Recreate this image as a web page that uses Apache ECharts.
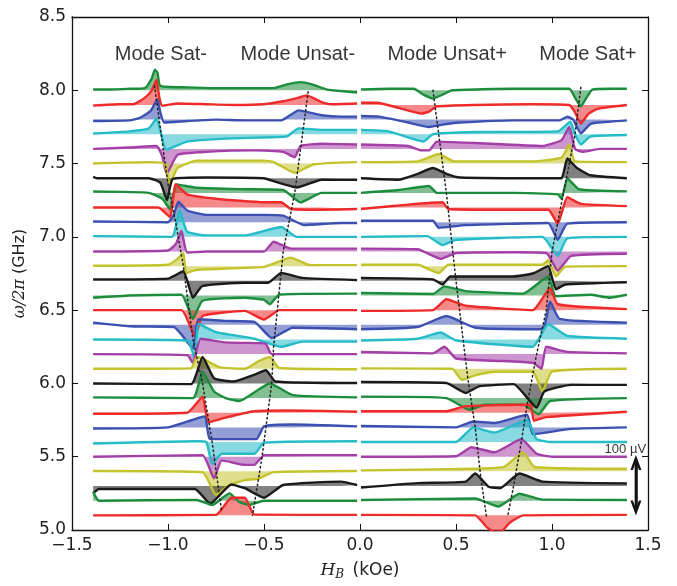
<!DOCTYPE html>
<html><head><meta charset="utf-8">
<script src="https://cdn.jsdelivr.net/npm/echarts@6/dist/echarts.min.js"></script>
<style>html,body{margin:0;padding:0;background:#fff}#c{width:677px;height:586px}</style>
</head><body><div id="c"></div>
<script>
// Trace baselines (GHz), top to bottom
const freqs = [8.0,7.9,7.8,7.7,7.6,7.5,7.4,7.3,7.2,7.1,7.0,6.9,6.8,6.7,6.6,6.5,6.4,6.3,6.2,6.1,6.0,5.9,5.8,5.7,5.6,5.5,5.4,5.3,5.2,5.1];
const colorCycle = ['#1c8d3c','#ee2a2a','#3b50b0','#25bcc8','#a43fa8','#c3c32c','#1a1a1a'];
const xTicks = [-1.5,-1.0,-0.5,0.0,0.5,1.0,1.5];
const yTicks = [5.0,5.5,6.0,6.5,7.0,7.5,8.0,8.5];

// Signal offsets [H_B (kOe), offset (GHz units)] for negative-field half of each trace
const leftTraces = [
 [[-1.39,0.005],[-1.3,0.005],[-1.2,0.01],[-1.12,0.015],[-1.085,0.08],[-1.068,0.14],[-1.055,0.12],[-1.04,0.03],[-0.9,0.02],[-0.75,0.015],[-0.6,0.015],[-0.45,0.015],[-0.38,0.04],[-0.31,0.056],[-0.25,0.04],[-0.17,0.005],[-0.1,-0.005],[-0.015,-0.015]],
 [[-1.39,-0.005],[-1.25,0.005],[-1.18,0.005],[-1.12,0.05],[-1.085,0.1],[-1.06,0.17],[-1.045,0.05],[-1.03,-0.005],[-0.95,0.01],[-0.8,0.005],[-0.65,0.0],[-0.5,0.005],[-0.4,0.025],[-0.32,0.05],[-0.278,0.065],[-0.2,0.02],[-0.15,0.005],[-0.015,0.01]],
 [[-1.39,-0.01],[-1.2,-0.005],[-1.15,0.01],[-1.09,0.06],[-1.055,0.14],[-1.04,0.05],[-1.02,-0.02],[-0.9,-0.01],[-0.75,0.0],[-0.6,-0.005],[-0.41,-0.005],[-0.32,0.063],[-0.2,0.03],[-0.1,0.02],[-0.015,0.02]],
 [[-1.39,0.005],[-1.2,0.02],[-1.1,0.04],[-1.06,0.108],[-1.035,0.0],[-1.01,-0.105],[-0.9,-0.05],[-0.7,-0.03],[-0.45,-0.02],[-0.38,-0.015],[-0.32,0.04],[-0.2,0.03],[-0.015,0.03]],
 [[-1.39,0.0],[-1.2,0.01],[-1.06,0.02],[-1.03,-0.05],[-1.007,-0.17],[-0.95,-0.04],[-0.8,-0.02],[-0.55,-0.01],[-0.4,-0.02],[-0.34,-0.057],[-0.31,0.02],[-0.2,0.035],[-0.015,0.03]],
 [[-1.39,0.0],[-1.1,0.01],[-1.02,0.0],[-0.99,-0.14],[-0.95,-0.03],[-0.85,0.02],[-0.5,0.02],[-0.45,0.01],[-0.34,-0.063],[-0.24,-0.005],[-0.015,0.01]],
 [[-1.39,0.01],[-1.37,0.0],[-1.1,0.0],[-1.04,-0.03],[-1.005,-0.15],[-0.975,-0.005],[-0.8,0.005],[-0.5,0.0],[-0.45,-0.02],[-0.33,-0.063],[-0.2,-0.01],[-0.015,-0.01]],
 [[-1.39,0.01],[-1.1,0.0],[-1.03,-0.04],[-0.99,-0.11],[-0.955,0.058],[-0.85,0.035],[-0.6,0.025],[-0.4,0.02],[-0.31,-0.065],[-0.2,0.0],[-0.015,0.0]],
 [[-1.39,0.0],[-1.05,0.0],[-0.99,-0.065],[-0.96,0.16],[-0.9,0.09],[-0.75,0.06],[-0.5,0.036],[-0.41,0.036],[-0.36,-0.01],[-0.2,-0.015],[-0.015,-0.01]],
 [[-1.39,0.005],[-1.0,0.0],[-0.97,0.05],[-0.946,0.14],[-0.9,0.08],[-0.8,0.05],[-0.5,0.05],[-0.4,0.045],[-0.29,-0.02],[-0.1,-0.005],[-0.015,-0.005]],
 [[-1.39,0.005],[-0.98,0.0],[-0.94,0.18],[-0.9,0.035],[-0.8,0.01],[-0.6,0.01],[-0.41,0.067],[-0.33,0.0],[-0.015,0.0]],
 [[-1.39,0.0],[-1.0,0.007],[-0.96,0.05],[-0.93,0.14],[-0.9,-0.007],[-0.8,0.0],[-0.5,0.0],[-0.45,0.067],[-0.36,0.02],[-0.015,0.02]],
 [[-1.39,0.003],[-1.0,0.01],[-0.95,0.05],[-0.92,0.09],[-0.905,-0.047],[-0.85,-0.025],[-0.5,-0.005],[-0.36,0.058],[-0.26,0.007],[-0.015,0.007]],
 [[-1.39,0.01],[-1.0,0.015],[-0.92,0.065],[-0.87,-0.115],[-0.82,-0.035],[-0.6,-0.013],[-0.48,-0.013],[-0.41,0.054],[-0.3,0.02],[-0.015,0.005]],
 [[-1.39,-0.015],[-1.2,0.0],[-0.93,0.005],[-0.87,-0.16],[-0.82,-0.035],[-0.6,-0.015],[-0.5,-0.03],[-0.47,-0.06],[-0.42,0.007],[-0.015,0.013]],
 [[-1.39,0.0],[-0.93,0.0],[-0.86,-0.18],[-0.82,-0.04],[-0.6,-0.005],[-0.5,-0.065],[-0.42,0.0],[-0.015,0.0]],
 [[-1.39,0.015],[-1.2,-0.01],[-0.97,-0.015],[-0.87,-0.16],[-0.84,0.038],[-0.7,0.027],[-0.55,0.02],[-0.46,-0.09],[-0.35,-0.02],[-0.015,-0.03]],
 [[-1.39,0.0],[-0.9,-0.007],[-0.86,-0.13],[-0.84,0.105],[-0.75,0.05],[-0.55,0.005],[-0.41,-0.05],[-0.3,-0.015],[-0.015,-0.015]],
 [[-1.39,0.0],[-0.9,-0.007],[-0.87,-0.06],[-0.83,0.105],[-0.7,0.08],[-0.52,0.075],[-0.49,0.07],[-0.46,0.0],[-0.015,0.0]],
 [[-1.39,0.0],[-0.88,0.003],[-0.85,0.08],[-0.82,0.07],[-0.73,0.01],[-0.6,0.0],[-0.53,0.05],[-0.47,0.08],[-0.42,0.005],[-0.015,-0.003]],
 [[-1.39,0.0],[-0.88,-0.005],[-0.82,0.18],[-0.76,0.035],[-0.66,0.013],[-0.55,0.06],[-0.49,0.09],[-0.44,0.013],[-0.015,0.003]],
 [[-1.39,0.005],[-0.87,0.0],[-0.82,0.18],[-0.76,0.045],[-0.7,0.0],[-0.63,-0.02],[-0.47,0.1],[-0.35,0.02],[-0.015,0.005]],
 [[-1.39,-0.007],[-0.9,0.0],[-0.82,0.11],[-0.79,-0.066],[-0.7,-0.033],[-0.55,0.01],[-0.38,0.015],[-0.015,0.007]],
 [[-1.39,-0.007],[-1.0,0.0],[-0.81,0.074],[-0.78,-0.08],[-0.54,-0.08],[-0.5,0.007],[-0.35,0.02],[-0.015,0.007]],
 [[-1.39,-0.01],[-0.85,0.005],[-0.8,0.0],[-0.77,-0.15],[-0.72,-0.08],[-0.55,-0.08],[-0.5,-0.005],[-0.015,0.005]],
 [[-1.39,0.0],[-0.82,0.01],[-0.76,-0.148],[-0.72,-0.025],[-0.6,-0.056],[-0.55,-0.056],[-0.5,0.01],[-0.015,0.01]],
 [[-1.39,0.003],[-0.82,-0.005],[-0.75,-0.16],[-0.68,-0.094],[-0.6,-0.06],[-0.53,-0.05],[-0.45,-0.005],[-0.015,0.003]],
 [[-1.39,-0.05],[-1.36,-0.02],[-1.2,-0.02],[-0.86,-0.02],[-0.78,-0.12],[-0.67,0.01],[-0.6,-0.015],[-0.5,-0.08],[-0.4,0.007],[-0.1,0.03],[-0.015,0.007]],
 [[-1.39,0.06],[-1.36,0.0],[-0.85,0.005],[-0.77,-0.03],[-0.68,0.05],[-0.63,-0.007],[-0.58,-0.03],[-0.5,0.0],[-0.015,0.0]],
 [[-1.39,0.0],[-0.75,0.003],[-0.67,0.12],[-0.6,0.12],[-0.55,0.005],[-0.015,0.003]]
];

// Positive-field half of each trace
const rightTraces = [
 [[0.005,0.005],[0.15,0.01],[0.28,0.01],[0.33,-0.03],[0.38,-0.056],[0.43,-0.03],[0.48,0],[0.8,0.01],[1.09,0.01],[1.12,-0.05],[1.15,-0.11],[1.18,-0.05],[1.21,0.005],[1.3,0.01],[1.39,0.01]],
 [[0.005,0.015],[0.09,0.015],[0.2,-0.02],[0.32,-0.059],[0.36,-0.045],[0.4,-0.01],[0.6,0],[0.9,0.005],[1.09,0],[1.12,-0.05],[1.15,-0.127],[1.19,-0.06],[1.24,-0.025],[1.39,0]],
 [[0.005,0.025],[0.1,0.02],[0.25,-0.02],[0.36,-0.05],[0.45,-0.03],[0.52,-0.02],[0.8,-0.005],[1.04,-0.005],[1.08,0.02],[1.11,0.0],[1.15,-0.094],[1.2,-0.03],[1.24,-0.02],[1.39,-0.005]],
 [[0.005,0.03],[0.15,0.02],[0.33,-0.05],[0.38,0.0],[0.6,0.015],[1.03,0.02],[1.095,0.085],[1.12,0.0],[1.15,-0.07],[1.2,-0.015],[1.39,-0.005]],
 [[0.005,0.03],[0.25,0.02],[0.32,-0.01],[0.36,-0.01],[0.4,0.05],[0.6,0.04],[0.95,0.02],[1.05,0.06],[1.09,0.15],[1.12,0.0],[1.16,-0.02],[1.25,0.0],[1.39,0.0]],
 [[0.005,0.01],[0.3,0.015],[0.41,0.065],[0.49,0.015],[0.9,0.015],[1.05,0.04],[1.09,0.13],[1.12,0.015],[1.39,0.01]],
 [[0.005,0.0],[0.2,-0.01],[0.3,0.03],[0.38,0.07],[0.45,0.03],[0.52,0.005],[1.0,0.0],[1.05,0.0],[1.08,0.135],[1.13,0.07],[1.2,0.02],[1.39,0.0]],
 [[0.005,0.0],[0.2,0.02],[0.36,0.047],[0.4,0.0],[0.8,0.0],[1.03,-0.01],[1.05,-0.04],[1.08,0.1],[1.14,0.025],[1.39,0.01]],
 [[0.005,-0.01],[0.25,0.02],[0.43,0.036],[0.46,-0.01],[0.7,-0.015],[0.98,-0.015],[1.03,-0.11],[1.08,0.07],[1.15,0.025],[1.39,0.01]],
 [[0.005,0.01],[0.38,0.01],[0.41,-0.038],[0.55,-0.02],[0.98,-0.005],[1.03,-0.12],[1.08,-0.01],[1.39,0.0]],
 [[0.005,0.0],[0.35,0.005],[0.43,-0.056],[0.5,-0.02],[0.95,0.0],[1.03,-0.13],[1.08,-0.01],[1.39,0.0]],
 [[0.005,0.02],[0.3,0.015],[0.42,-0.05],[0.5,-0.01],[0.8,-0.005],[0.97,-0.01],[1.03,-0.13],[1.1,-0.03],[1.39,-0.015]],
 [[0.005,0.01],[0.3,0.01],[0.41,-0.047],[0.46,0.01],[0.95,0.01],[0.98,0.04],[1.02,-0.07],[1.07,-0.003],[1.39,0.0]],
 [[0.005,0.02],[0.38,0.01],[0.43,-0.025],[0.47,0.03],[0.8,0.03],[0.9,0.05],[0.98,0.1],[1.02,-0.058],[1.07,-0.025],[1.39,-0.01]],
 [[0.005,0.018],[0.38,0.01],[0.44,0.062],[0.55,0.03],[0.85,0.013],[0.98,0.13],[1.02,-0.005],[1.2,0.005],[1.3,-0.015],[1.39,0.005]],
 [[0.005,-0.005],[0.38,0.0],[0.45,0.074],[0.55,0.03],[0.9,0.0],[0.99,0.15],[1.03,0.04],[1.39,0.007]],
 [[0.005,-0.03],[0.3,-0.015],[0.45,0.06],[0.6,-0.02],[0.95,-0.03],[0.99,0.16],[1.04,0.04],[1.39,0.015]],
 [[0.005,-0.007],[0.3,0.005],[0.42,0.047],[0.5,-0.007],[0.9,-0.05],[0.98,0.105],[1.08,0.025],[1.39,0.005]],
 [[0.005,0.015],[0.38,0.005],[0.44,0.05],[0.5,-0.03],[0.7,-0.045],[0.9,-0.06],[0.945,-0.1],[0.97,0.05],[1.08,0.015],[1.39,0.005]],
 [[0.005,0.003],[0.48,0.0],[0.53,-0.076],[0.6,-0.045],[0.7,-0.02],[0.9,-0.02],[0.95,-0.155],[1.0,-0.02],[1.39,0.0]],
 [[0.005,0.01],[0.45,0.003],[0.55,-0.065],[0.62,-0.02],[0.8,-0.005],[0.92,-0.165],[0.96,-0.055],[1.1,-0.01],[1.39,-0.01]],
 [[0.005,0.01],[0.45,0.0],[0.57,-0.08],[0.65,-0.045],[0.85,-0.045],[0.93,-0.11],[0.99,-0.02],[1.39,0.0]],
 [[0.005,0.01],[0.45,0.01],[0.55,0.045],[0.85,0.055],[0.89,0.055],[0.905,-0.055],[0.97,-0.03],[1.39,0.007]],
 [[0.005,0.01],[0.5,0.0],[0.59,0.04],[0.7,0.03],[0.87,0.087],[0.9,-0.047],[0.97,-0.035],[1.1,-0.01],[1.39,0.0]],
 [[0.005,0.0],[0.5,0.0],[0.59,0.1],[0.7,0.065],[0.87,0.15],[0.92,0.02],[1.0,0.0],[1.39,0.0]],
 [[0.005,0.0],[0.5,0.003],[0.58,0.065],[0.7,0.03],[0.84,0.12],[0.92,0.02],[1.0,0.0],[1.39,0.0]],
 [[0.005,0.007],[0.6,0.018],[0.75,0.03],[0.85,0.13],[0.91,0.03],[1.39,0.018]],
 [[0.005,-0.01],[0.3,0.02],[0.55,0.03],[0.6,0.085],[0.67,-0.005],[0.73,-0.015],[0.83,0.085],[0.95,0.03],[1.39,0.018]],
 [[0.005,0.005],[0.6,0.015],[0.72,-0.04],[0.83,0.047],[0.95,0.007],[1.39,0.005]],
 [[0.005,0.003],[0.6,0.0],[0.66,-0.08],[0.72,-0.13],[0.78,-0.05],[0.85,0.0],[1.39,0.003]]
];

// Dotted mode tracks [H_B, GHz]
const trackSatMinus = [[-1.07,8.03],[-1.0,7.36],[-0.96,7.1],[-0.92,6.8],[-0.87,6.3],[-0.82,6.0],[-0.77,5.6],[-0.72,5.12]];
const trackUnsatMinus = [[-0.27,7.99],[-0.34,7.3],[-0.4,6.9],[-0.45,6.25],[-0.46,6.0],[-0.51,5.5],[-0.56,5.1]];
const trackUnsatPlus = [[0.38,8.0],[0.45,7.3],[0.5,6.7],[0.56,6.05],[0.6,5.7],[0.63,5.35],[0.66,5.08]];
const trackSatPlus = [[1.15,8.02],[1.12,7.7],[1.06,7.3],[1.0,6.9],[0.97,6.5],[0.92,6.2],[0.87,5.85],[0.84,5.6],[0.8,5.3],[0.77,5.1]];

const modeLabels = [[-1.037,8.245,'Mode Sat-'],[-0.324,8.245,'Mode Unsat-'],[0.454,8.245,'Mode Unsat+'],[1.187,8.245,'Mode Sat+']];
const scaleBarLabel = [[1.382,5.55,'100 µV']];
const scaleBar = [[1.437,5.15],[1.437,5.46]];

const series = [];
freqs.forEach((f,i)=>{
  const color = colorCycle[i % colorCycle.length];
  [leftTraces[i], rightTraces[i]].forEach(half=>{
    series.push({
      type:'line', data: half.map(p=>[p[0], f + p[1]]),
      symbol:'none', silent:true, smooth:0.15,
      lineStyle:{color:color, width:2.4, join:'round'},
      areaStyle:{color:color, opacity:0.55, origin:f},
      z: 2
    });
  });
});
[trackSatMinus, trackUnsatMinus, trackUnsatPlus, trackSatPlus].forEach(t=>{
  series.push({type:'line', data:t, symbol:'none', silent:true, z:5,
    lineStyle:{color:'#222', width:1.5, type:[1.5,3], cap:'round'}});
});
series.push({type:'scatter', data: modeLabels.map(d=>({value:[d[0],d[1]], name:d[2]})),
  symbolSize:1, itemStyle:{color:'rgba(0,0,0,0)'}, silent:true, z:6,
  label:{show:true, position:'inside', formatter:p=>p.name, color:'#000', fontSize:20, fontFamily:'Liberation Sans'}});
series.push({type:'scatter', data: scaleBarLabel.map(d=>({value:[d[0],d[1]], name:d[2]})),
  symbolSize:1, itemStyle:{color:'rgba(0,0,0,0)'}, silent:true, z:6,
  label:{show:true, position:'inside', formatter:p=>p.name, color:'#000', fontSize:13, fontFamily:'Liberation Sans'}});
const chevron = 'path://M0,14 L6,0 L12,14 L9.3,14 L6,6.5 L2.7,14 Z';
series.push({type:'line', data: scaleBar, symbol:'none', silent:true, z:6,
  lineStyle:{color:'#111', width:2.5},
  markLine:{silent:true, symbol:[chevron, chevron], symbolSize:[11,15], animation:false,
    label:{show:false}, lineStyle:{color:'#111', width:2.5, type:'solid'},
    data:[[{coord:scaleBar[0]},{coord:scaleBar[1]}]]}});

const fmtX = v => (v<0?'\u2212':'') + Math.abs(v).toFixed(1);
const axisFont = {fontFamily:'DejaVu Sans', fontSize:17, color:'#222'};
const lineSty = {onZero:false, show:true, lineStyle:{color:'#111', width:1.3}};
const tickSty = {show:true, inside:true, length:6, lineStyle:{color:'#111'}};
const chart = echarts.init(document.getElementById('c'), null, {renderer:'canvas'});
chart.setOption({
  animation:false,
  grid:{left:72, right:29, top:17, bottom:49},
  xAxis:[
    {type:'value', min:xTicks[0], max:xTicks[xTicks.length-1], interval:0.5, position:'bottom',
     axisLine:lineSty, axisTick:tickSty,
     splitLine:{show:false}, axisLabel:Object.assign({margin:7, formatter:fmtX}, axisFont),
     name:'{i|H}{s|B} (kOe)', nameLocation:'middle', nameGap:31,
     nameTextStyle:{fontFamily:'DejaVu Sans', fontSize:17, color:'#222',
       rich:{i:{fontFamily:'DejaVu Serif', fontStyle:'italic', fontSize:17, color:'#222'},
             s:{fontFamily:'DejaVu Serif', fontStyle:'italic', fontSize:12, color:'#222', verticalAlign:'bottom', padding:[8,3,0,0]}}}},
    {type:'value', min:xTicks[0], max:xTicks[xTicks.length-1], interval:0.5, position:'top',
     axisLine:lineSty, axisTick:tickSty, splitLine:{show:false}, axisLabel:{show:false}}
  ],
  yAxis:[
    {type:'value', min:yTicks[0], max:yTicks[yTicks.length-1], interval:0.5, position:'left',
     axisLine:lineSty, axisTick:tickSty,
     splitLine:{show:false}, axisLabel:Object.assign({margin:6, formatter:v=>v.toFixed(1)}, axisFont),
     name:'{i|ω/2π} (GHz)', nameLocation:'middle', nameGap:44,
     nameTextStyle:{fontFamily:'DejaVu Sans', fontSize:16, color:'#222',
       rich:{i:{fontFamily:'DejaVu Serif', fontStyle:'italic', fontSize:16, color:'#222'}}}},
    {type:'value', min:yTicks[0], max:yTicks[yTicks.length-1], interval:0.5, position:'right',
     axisLine:lineSty, axisTick:tickSty, splitLine:{show:false}, axisLabel:{show:false}}
  ],
  series: series
});
</script></body></html>
